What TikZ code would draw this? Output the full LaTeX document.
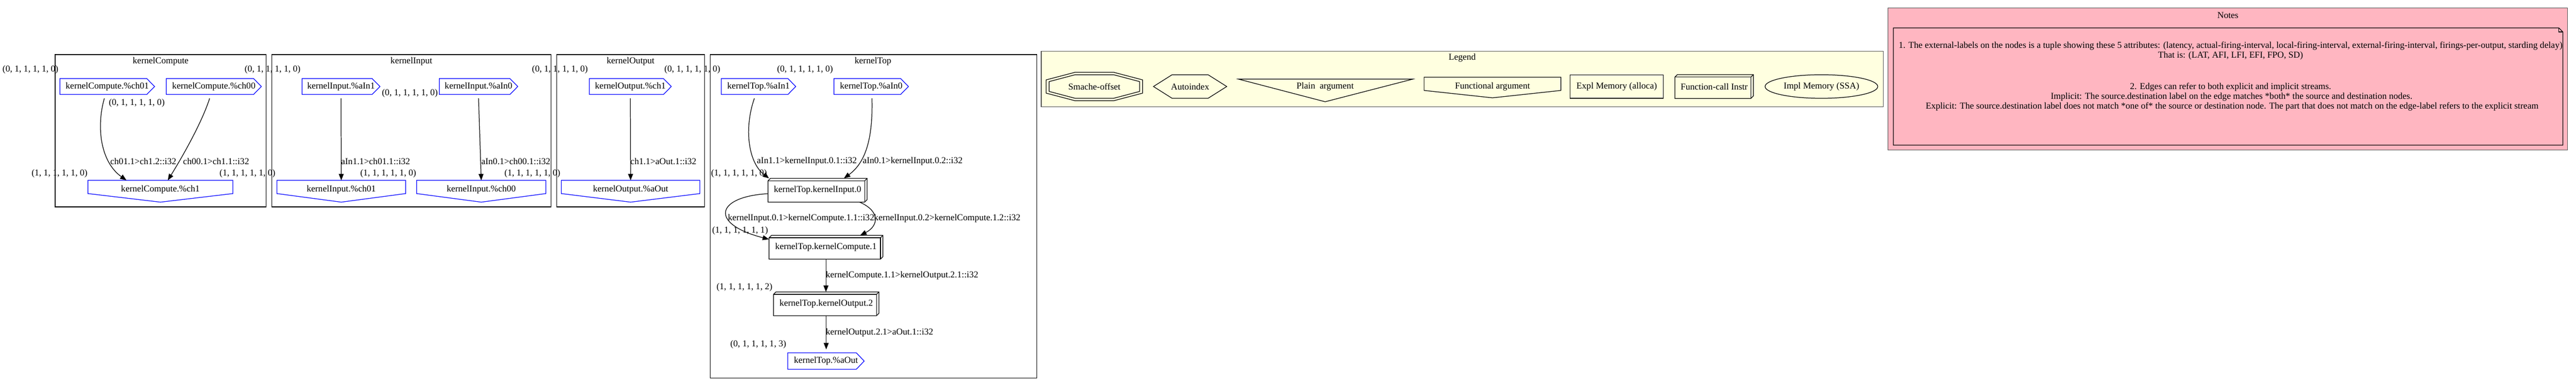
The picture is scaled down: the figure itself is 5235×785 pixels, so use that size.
\documentclass[tikz,border=0pt]{standalone}
\usepackage{fontspec}
\setmainfont{Liberation Serif}
\usetikzlibrary{arrows.meta,shapes.geometric,calc}
\definecolor{lyellow}{RGB}{255,255,224}
\definecolor{lpink}{RGB}{255,182,193}
\definecolor{gvblue}{RGB}{0,0,255}
\definecolor{clgray}{RGB}{80,80,80}
\tikzset{
  every node/.style={font=\fontsize{18.4pt}{20pt}\selectfont, inner sep=0pt},
  lbl/.style={anchor=west},
  cluster/.style={draw=black, line width=1.3pt},
  cdsnode/.style={minimum height=32pt},
  invhnode/.style={minimum height=38pt},
  b3dnode/.style={minimum height=48pt},
  nodeline/.style={draw=gvblue, line width=1.3pt, line join=miter},
  boxline/.style={draw=black, line width=1.3pt, line join=miter},
  arr/.style={draw=black, line width=1.3pt, -{Triangle[length=13pt,width=10pt]}},
}
\begin{document}
\begin{tikzpicture}[x=1pt,y=-1pt]
\fill[white] (0,0) rectangle (5235,785);
\useasboundingbox (0,0) rectangle (5235,785);

% ---------------- clusters
\node[cluster, minimum width=429pt, minimum height=310pt] (kC) at (326.5,266) {};
\node (kCt) at (326.5,125) {kernelCompute};
\node[cluster, minimum width=568pt, minimum height=310pt] (kI) at (836,266) {};
\node (kIt) at (836,125) {kernelInput};
\node[cluster, minimum width=301pt, minimum height=310pt] (kO) at (1281.5,266) {};
\node (kOt) at (1281.5,125) {kernelOutput};
\node[cluster, minimum width=664pt, minimum height=658pt] (kT) at (1775,440) {};
\node (kTt) at (1774,125) {kernelTop};

% ---------------- kernelCompute
\node[cdsnode, minimum width=192pt] (kCch01) at (218,176) {kernelCompute.\%ch01};
\node[cdsnode, minimum width=193pt] (kCch00) at (434.5,176) {kernelCompute.\%ch00};
\node[invhnode, minimum width=294pt] (kCch1) at (326,386) {kernelCompute.\%ch1};

% ---------------- kernelInput
\node[cdsnode, minimum width=158pt] (kIaIn1) at (693,176) {kernelInput.\%aIn1};
\node[cdsnode, minimum width=159pt] (kIaIn0) at (972.5,176) {kernelInput.\%aIn0};
\node[invhnode, minimum width=261pt] (kIch01) at (693.5,386) {kernelInput.\%ch01};
\node[invhnode, minimum width=262pt] (kIch00) at (978,386) {kernelInput.\%ch00};

% ---------------- kernelOutput
\node[cdsnode, minimum width=166pt] (kOch1) at (1281,176) {kernelOutput.\%ch1};
\node[invhnode, minimum width=281pt] (kOaOut) at (1281.5,386) {kernelOutput.\%aOut};

% ---------------- kernelTop
\node[cdsnode, minimum width=151pt] (kTaIn1) at (1541.5,176) {kernelTop.\%aIn1};
\node[cdsnode, minimum width=151pt] (kTaIn0) at (1770.5,176) {kernelTop.\%aIn0};
\node[b3dnode, minimum width=201pt] (kTkI0) at (1661.5,387) {kernelTop.kernelInput.0};
\node[b3dnode, minimum width=231pt] (kTkC1) at (1678.5,503) {kernelTop.kernelCompute.1};
\node[b3dnode, minimum width=214pt] (kTkO2) at (1679,618) {kernelTop.kernelOutput.2};
\node[minimum height=33pt, minimum width=155pt] (kTaOut) at (1678.5,734.5) {kernelTop.\%aOut};

% ---------------- node outlines
\foreach \n in {kCch01,kCch00,kIaIn1,kIaIn0,kOch1,kTaIn1,kTaIn0,kTaOut}{
  \draw[nodeline] (\n.north west) -- ([xshift=-16pt]\n.north east) -- (\n.east)
    -- ([xshift=-16pt]\n.south east) -- (\n.south west) -- cycle;
}
\foreach \n in {kCch1,kIch01,kIch00,kOaOut}{
  \draw[nodeline] (\n.north west) -- (\n.north east) -- ([yshift=-27pt]\n.north east)
    -- ([yshift=-6pt]\n.south) -- ([yshift=-27pt]\n.north west) -- cycle;
}

% ---------------- external labels
\node[lbl] (x1) at (5,142) {(0, 1, 1, 1, 1, 0)};
\node[lbl] (x2) at (221,210) {(0, 1, 1, 1, 1, 0)};
\node[lbl] (x3) at (497,142) {(0, 1, 1, 1, 1, 0)};
\node[lbl] (x4) at (64,353) {(1, 1, 1, 1, 1, 0)};
\node[lbl] (x5) at (446,353) {(1, 1, 1, 1, 1, 0)};
\node[lbl] (x6) at (776,190) {(0, 1, 1, 1, 1, 0)};
\node[lbl] (x7) at (1081,142) {(0, 1, 1, 1, 1, 0)};
\node[lbl] (x8) at (732,353) {(1, 1, 1, 1, 1, 0)};
\node[lbl] (x9) at (1025,353) {(1, 1, 1, 1, 1, 0)};
\node[lbl] (x10) at (1350,142) {(0, 1, 1, 1, 1, 0)};
\node[lbl] (x11) at (1579,142) {(0, 1, 1, 1, 1, 0)};
\node[lbl] (x12) at (1445,353) {(1, 1, 1, 1, 1, 0)};
\node[lbl] (x13) at (1447,469) {(1, 1, 1, 1, 1, 1)};
\node[lbl] (x14) at (1456,585) {(1, 1, 1, 1, 1, 2)};
\node[lbl] (x15) at (1484,701) {(0, 1, 1, 1, 1, 3)};

% ---------------- edges
\draw[arr] ([xshift=-6pt,yshift=-8pt]kCch01.south) .. controls (195,260) and (205,330) .. ([xshift=-69pt]kCch1.north);
\draw[arr] ([xshift=-8.5pt,yshift=-8pt]kCch00.south) .. controls (410,250) and (370,320) .. ([xshift=15pt]kCch1.north);
\draw[arr] ([yshift=-8pt]kIaIn1.south) -- (kIch01.north);
\draw[arr] ([yshift=-8pt]kIaIn0.south) -- (kIch00.north);
\draw[arr] ([yshift=-8pt]kOch1.south) -- (kOaOut.north);
\draw[arr] ([xshift=-8.5pt,yshift=-8pt]kTaIn1.south) .. controls (1512,260) and (1520,330) .. ([xshift=2pt]kTkI0.north west);
\draw[arr] ([xshift=1.5pt,yshift=-8pt]kTaIn0.south) .. controls (1774,280) and (1760,330) .. ([xshift=53.5pt]kTkI0.north);
\draw[arr] ([yshift=-7pt]kTkI0.west) .. controls (1455,400) and (1440,455) .. ([yshift=-8pt]kTkC1.north west);
\draw[arr] ([xshift=85.5pt]kTkI0.south) .. controls (1790,430) and (1785,460) .. ([xshift=69.5pt]kTkC1.north);
\draw[arr] (kTkC1.south) -- (kTkC1.south |- kTkO2.north);
\draw[arr, shorten >=7pt] (kTkO2.south) -- (kTkO2.south |- kTaOut.north);

% ---------------- edge labels
\node[lbl] (e1) at (224,328) {ch01.1>ch1.2::i32};
\node[lbl] (e2) at (372,328) {ch00.1>ch1.1::i32};
\node[lbl] (e3) at (693,328) {aIn1.1>ch01.1::i32};
\node[lbl] (e4) at (978,328) {aIn0.1>ch00.1::i32};
\node[lbl] (e5) at (1281,328) {ch1.1>aOut.1::i32};
\node[lbl] (e6) at (1538,328) {aIn1.1>kernelInput.0.1::i32};
\node[lbl] (e7) at (1753,328) {aIn0.1>kernelInput.0.2::i32};
\node[lbl] (e8) at (1479,444) {kernelInput.0.1>kernelCompute.1.1::i32};
\node[lbl] (e9) at (1776,444) {kernelInput.0.2>kernelCompute.1.2::i32};
\node[lbl] (e10) at (1678,560) {kernelCompute.1.1>kernelOutput.2.1::i32};
\node[lbl] (e11) at (1678,677) {kernelOutput.2.1>aOut.1::i32};

% ---------------- legend
\node[draw=clgray, fill=lyellow, line width=1.3pt, minimum width=1711pt, minimum height=113pt] (legend) at (2971.5,160.5) {};
\node (legendt) at (2971.5,118) {Legend};
\node[minimum width=196pt, minimum height=58pt] (lgSO) at (2224,176) {Smache-offset};
\draw[boxline, shift={(lgSO)}] (-39,-29) -- (39,-29) -- (98,-13.5) -- (98,13.5) -- (39,29) -- (-39,29) -- (-98,13.5) -- (-98,-13.5) -- cycle;
\draw[boxline, shift={(lgSO)}] (-39,-24) -- (39,-24) -- (92,-10) -- (92,10) -- (39,24) -- (-39,24) -- (-92,10) -- (-92,-10) -- cycle;
\node[minimum width=149pt, minimum height=48pt] (lgAI) at (2418.5,176) {Autoindex};
\draw[boxline, shift={(lgAI)}] (-74.5,0) -- (-36.5,-24) -- (36.5,-24) -- (74.5,0) -- (36.5,24) -- (-36.5,24) -- cycle;
\node (lgPA) at (2693,176) {Plain\ \ argument};
\draw[boxline, shift={(lgPA)}] (-176,-15) -- (178,-15) -- (0,31) -- cycle;
\node (lgFA) at (3033,176) {Functional argument};
\draw[boxline, shift={(lgFA)}] (-139,-19) -- (139,-19) -- (139,8) -- (0,23) -- (-139,8) -- cycle;
\node[boxline, minimum width=189pt, minimum height=48pt] (lgEM) at (3285.5,176) {Expl Memory (alloca)};
\node[b3dnode, minimum width=159pt] (lgFC) at (3483.5,176) {Function-call Instr};
\node[boxline, ellipse, minimum width=229pt, minimum height=48pt] (lgIM) at (3701.5,176) {Impl Memory (SSA)};

% box3d outlines
\foreach \n in {kTkI0,kTkC1,kTkO2,lgFC}{
  \draw[boxline] (\n.south west) -- ([yshift=-5pt]\n.north west) -- ([xshift=5pt]\n.north west)
    -- (\n.north east) -- ([yshift=5pt]\n.south east) -- ([xshift=-5pt]\n.south east) -- cycle;
  \draw[boxline] ([yshift=-5pt]\n.north west) -- ([xshift=-5pt,yshift=-5pt]\n.north east) -- ([xshift=-5pt]\n.south east);
  \draw[boxline] ([xshift=-5pt,yshift=-5pt]\n.north east) -- (\n.north east);
}

% ---------------- notes
\node[draw=clgray, fill=lpink, line width=1.3pt, minimum width=1381pt, minimum height=289pt] (notes) at (4527.5,160.5) {};
\node (notest) at (4527.5,31) {Notes};
\node[minimum width=1360pt, minimum height=238pt] (notebox) at (4528,176) {};
\draw[boxline] (notebox.north west) -- ([xshift=-8pt]notebox.north east) -- ([yshift=-8pt]notebox.north east)
  -- (notebox.south east) -- (notebox.south west) -- cycle;
\draw[boxline] ([xshift=-8pt]notebox.north east) -- ([xshift=-8pt,yshift=-8pt]notebox.north east) -- ([yshift=-8pt]notebox.north east);
\node (nl1) at (4533,93) {1. The external-labels on the nodes is a tuple showing these 5 attributes: (latency, actual-firing-interval, local-firing-interval, external-firing-interval, firings-per-output, starding delay)};
\node (nl2) at (4533,113) {That is: (LAT, AFI, LFI, EFI, FPO, SD)};
\node (nl3) at (4533,177) {2. Edges can refer to both explicit and implicit streams.};
\node (nl4) at (4535,197) {Implicit: The source.destination label on the edge matches *both* the source and destination nodes.};
\node (nl5) at (4536,217) {Explicit: The source.destination label does not match *one of* the source or destination node. The part that does not match on the edge-label refers to the explicit stream};
\end{tikzpicture}
\end{document}
